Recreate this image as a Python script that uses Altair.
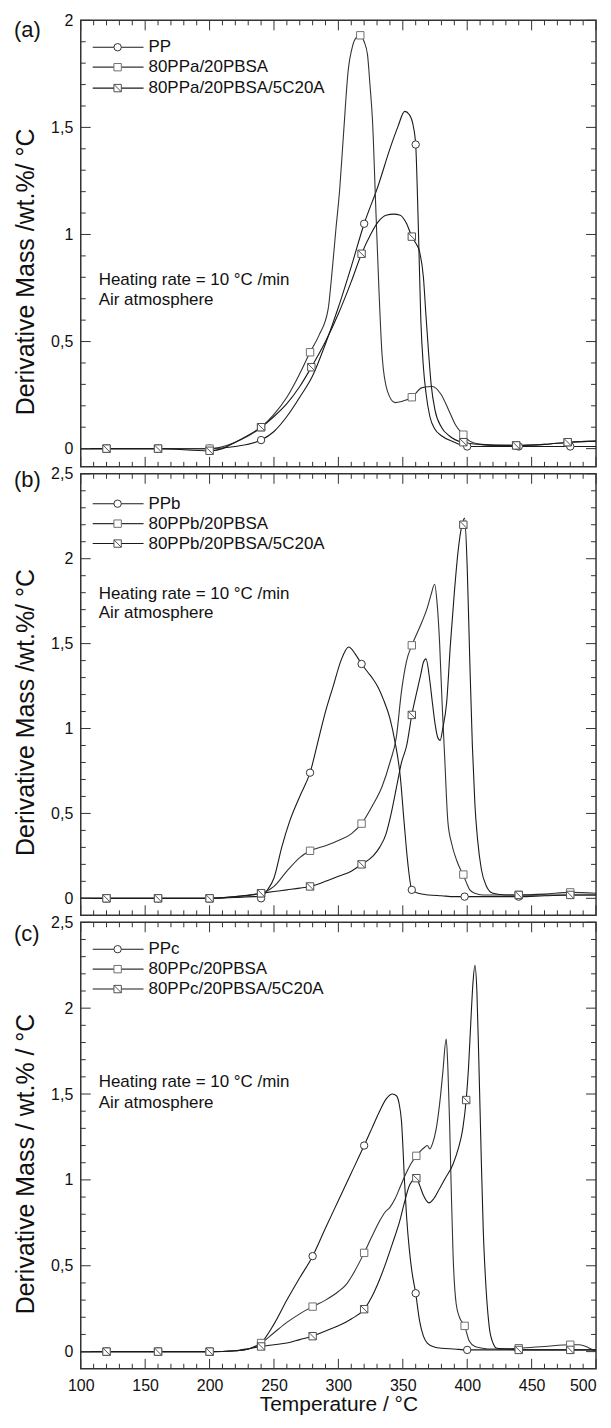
import altair as alt
import pandas as pd

FONT = "Liberation Sans"

# ---------------- data (temperature °C, derivative mass %/°C) ----------------
NAMES_A = ["PP", "80PPa/20PBSA", "80PPa/20PBSA/5C20A"]
NAMES_B = ["PPb", "80PPb/20PBSA", "80PPb/20PBSA/5C20A"]
NAMES_C = ["PPc", "80PPc/20PBSA", "80PPc/20PBSA/5C20A"]

A_PP = [(100,0),(120,0),(160,0),(200,0),(220,0.01),(240,0.04),(250,0.08),(260,0.15),(270,0.24),(280,0.34),
        (290,0.49),(300,0.66),(310,0.85),(320,1.05),(331,1.23),(340,1.40),(346,1.50),(351.5,1.575),(355,1.56),
        (358,1.51),(360,1.42),(362,1.05),(364,0.6),(366,0.38),(368,0.26),(371,0.15),(375,0.09),(380,0.06),
        (390,0.03),(400,0.01),(420,0.01),(440,0.01),(460,0.01),(480,0.01),(500,0.01)]
A_BL = [(100,0),(120,0),(160,0),(200,0),(220,0.03),(240,0.1),(250,0.16),(260,0.24),(270,0.35),(278,0.45),
        (285,0.53),(292,0.65),(295,0.82),(298,1.02),(301,1.21),(304,1.47),(307.5,1.76),(311,1.88),(314,1.92),
        (317,1.93),(320,1.9),(322.6,1.84),(324.5,1.7),(326.5,1.53),(329,1.13),(331.5,0.74),(334,0.43),(338,0.27),
        (344,0.215),(349,0.22),(357,0.24),(365,0.285),(373,0.29),(379.5,0.255),(386,0.175),(391,0.11),(396,0.07),
        (402,0.035),(410,0.02),(420,0.015),(440,0.015),(460,0.02),(480,0.03),(500,0.035)]
A_NC = [(100,0),(120,0),(160,0),(200,-0.01),(210,0.0),(220,0.03),(240,0.1),(250,0.15),(260,0.21),(270,0.29),
        (279,0.38),(290,0.5),(300,0.63),(310,0.78),(318,0.91),(325,1.0),(331,1.06),(337,1.09),(343,1.095),
        (348,1.09),(353,1.05),(357,0.99),(360,0.96),(363,0.92),(366,0.8),(368,0.62),(370,0.45),(372,0.3),
        (375,0.18),(380,0.1),(386,0.06),(396,0.03),(410,0.02),(440,0.015),(460,0.02),(480,0.03),(500,0.035)]
A_PP_M = [(120,0),(160,0),(200,0),(240,0.04),(320,1.05),(360,1.42),(400,0.01),(440,0.01),(480,0.01)]
A_BL_M = [(120,0),(160,0),(200,0),(240,0.1),(278,0.45),(317,1.93),(357,0.24),(397,0.065),(438,0.015),(478,0.03)]
A_NC_M = [(120,0),(160,0),(200,-0.01),(240,0.1),(279,0.38),(318,0.91),(357,0.99),(397,0.03),(438,0.015),(478,0.03)]

B_PP = [(100,0),(120,0),(160,0),(200,0),(220,0.005),(235,0.01),(240,0.01),(245,0.05),(250,0.12),(256,0.3),
        (262,0.45),(270,0.6),(278,0.74),(285,0.95),(290,1.1),(296,1.25),(302,1.4),(308,1.48),(313,1.44),
        (318,1.38),(323,1.33),(327,1.29),(331,1.24),(335,1.17),(340,1.06),(344,0.92),(348,0.72),(351,0.45),
        (354,0.2),(357,0.05),(362,0.03),(370,0.02),(380,0.015),(390,0.01),(400,0.01),(420,0.01),(440,0.01),
        (460,0.015),(480,0.02),(500,0.02)]
B_BL = [(100,0),(120,0),(160,0),(200,0),(220,0.01),(240,0.03),(250,0.07),(260,0.16),(270,0.24),(278,0.28),
        (290,0.31),(300,0.34),(310,0.38),(318,0.44),(326,0.54),(334,0.66),(340,0.8),(345,0.95),(349,1.22),
        (353,1.4),(357,1.49),(361,1.56),(365,1.63),(369,1.71),(372,1.79),(374.7,1.85),(376.5,1.75),(378.6,1.5),
        (380.5,1.15),(382.4,0.85),(385,0.45),(388,0.32),(392,0.22),(396,0.15),(399,0.1),(402,0.05),(406,0.03),
        (412,0.02),(420,0.02),(440,0.02),(460,0.025),(480,0.035),(500,0.03)]
B_NC = [(100,0),(120,0),(160,0),(200,0),(220,0.01),(240,0.03),(250,0.04),(260,0.05),(270,0.06),(278,0.07),
        (290,0.1),(300,0.13),(310,0.16),(318,0.2),(327,0.25),(332,0.3),(337,0.38),(341,0.5),(345,0.65),(349,0.8),
        (353,0.9),(357,1.08),(361,1.22),(364,1.32),(366,1.39),(368,1.41),(371,1.28),(373,1.15),(375,1.03),
        (377,0.95),(379,0.93),(381,1.0),(384,1.15),(387,1.5),(390,1.8),(393,2.05),(396,2.2),(398,2.24),(400,1.95),
        (402,1.4),(404,0.9),(406,0.55),(408,0.35),(411,0.17),(415,0.07),(420,0.03),(430,0.02),(440,0.02),
        (460,0.02),(480,0.02),(500,0.02)]
B_PP_M = [(120,0),(160,0),(200,0),(240,0.0),(278,0.74),(318,1.38),(357,0.05),(398,0.01),(440,0.01),(480,0.02)]
B_BL_M = [(120,0),(160,0),(200,0),(240,0.03),(278,0.28),(318,0.44),(357,1.49),(397,0.14),(440,0.02),(480,0.035)]
B_NC_M = [(120,0),(160,0),(200,0),(240,0.03),(278,0.07),(318,0.2),(357,1.08),(397,2.2),(440,0.02),(480,0.02)]

C_PP = [(100,0),(120,0),(160,0),(200,0),(220,0.005),(232,0.02),(240,0.05),(250,0.16),(260,0.3),(270,0.43),
        (280,0.556),(290,0.72),(300,0.88),(310,1.04),(320,1.2),(326,1.3),(332,1.4),(337,1.47),(342,1.5),
        (345,1.49),(347,1.45),(349,1.34),(351.5,0.97),(353,0.78),(355,0.6),(357,0.47),(360,0.34),(363,0.18),
        (366,0.09),(369,0.05),(375,0.025),(380,0.02),(390,0.015),(400,0.01),(420,0.01),(440,0.01),(460,0.01),
        (480,0.01),(500,0.01)]
C_BL = [(100,0),(120,0),(160,0),(200,0),(220,0.005),(232,0.02),(240,0.05),(250,0.11),(260,0.17),(270,0.22),
        (280,0.262),(290,0.3),(300,0.35),(306,0.39),(312,0.46),(320,0.575),(326,0.67),(332,0.76),(336,0.81),
        (340,0.84),(344,0.89),(348,0.96),(352,1.03),(356,1.09),(360.5,1.14),(364,1.17),(367,1.19),(369,1.2),
        (371,1.18),(373,1.21),(376,1.3),(379,1.47),(381,1.62),(383.7,1.82),(385,1.65),(386.3,1.34),(387.6,0.95),
        (389,0.57),(391.4,0.28),(394,0.2),(397.9,0.15),(401.7,0.06),(406,0.03),(412,0.02),(420,0.015),
        (440,0.02),(460,0.03),(480,0.04),(487,0.04),(495,0.02),(500,0.0)]
C_NC = [(100,0),(120,0),(160,0),(200,0),(220,0.005),(232,0.02),(240,0.03),(250,0.04),(260,0.05),(270,0.07),
        (280,0.09),(290,0.12),(300,0.15),(310,0.19),(320,0.247),(326,0.32),(332,0.42),(337,0.52),(342,0.63),
        (347.6,0.76),(351,0.86),(355.3,0.97),(360.5,1.01),(363,0.97),(366,0.91),(370.3,0.866),(374,0.89),
        (378.6,0.95),(383,1.01),(388.9,1.09),(393,1.18),(396.6,1.3),(399.2,1.465),(401,1.65),(403,1.95),
        (404.5,2.15),(406,2.25),(407.5,2.1),(409,1.7),(411,1.1),(412.5,0.7),(414,0.45),(417,0.15),(420,0.05),
        (423,0.02),(430,0.015),(440,0.01),(460,0.01),(480,0.01),(500,0.01)]
C_PP_M = [(120,0),(160,0),(200,0),(240,0.05),(280,0.556),(320,1.2),(360,0.34),(400,0.01),(440,0.01),(480,0.01)]
C_BL_M = [(120,0),(160,0),(200,0),(240,0.05),(280,0.262),(320,0.575),(360.5,1.14),(398,0.15),(440,0.02),(480,0.04)]
C_NC_M = [(120,0),(160,0),(200,0),(240,0.03),(280,0.09),(320,0.247),(360.5,1.01),(399.2,1.465),(440,0.01),(480,0.01)]

# axis ticks / labels
X_LABELS = [100, 150, 200, 250, 300, 350, 400, 450, 500]
X_TICKS = list(range(100, 501, 10))
Y_LABELS_A = [0, 0.5, 1, 1.5, 2]
Y_LABELS_BC = [0, 0.5, 1, 1.5, 2, 2.5]

# ---------------- styling ----------------
W = 517
LINE_COLORS = ["#1a1a1a", "#333333", "#1a1a1a"]
MARK_STROKES = ["#333333", "#707070", "#505050"]
SHAPES = ["circle", "square", "M-1,-1L1,-1L1,1L-1,1Z M-1,-1L1,1"]
MSIZE = 55


def to_df(names, series):
    rows = []
    for i, (n, pts) in enumerate(zip(names, series)):
        for t, v in pts:
            rows.append({"series": n, "order": i, "T": t, "v": v})
    return pd.DataFrame(rows)


def panel(label, names, curves, marks, ymin, ymax, H, ytitle, title_y, show_x, leg_y, note_y, lab_dy):
    xs = alt.Scale(domain=[100, 500], nice=False, zero=False)
    ys = alt.Scale(domain=[ymin, ymax], nice=False, zero=False)
    ylabels = Y_LABELS_A if ymax <= 2 else Y_LABELS_BC
    cdf = to_df(names, curves)
    mdf = to_df(names, marks)

    if show_x:
        xaxis = alt.Axis(values=X_LABELS, ticks=False, domain=False, grid=False,
                         labelFontSize=16, labelPadding=9, labelFlush=False, labelOverlap=False,
                         labelAlign={"condition": {"test": "datum.value >= 500", "value": "right"},
                                     "value": "center"},
                         title="Temperature / °C",
                         titleFontSize=21, titlePadding=0, titleFontWeight="normal")
    else:
        xaxis = None
    yaxis = alt.Axis(values=ylabels, ticks=False, domain=False, grid=False,
                     labelExpr="replace(format(datum.value, '~g'), '.', ',')",
                     labelFlush=False, labelOverlap=False,
                     labelFontSize=16, labelPadding=8, title=ytitle, titleFontSize=25,
                     titlePadding=12, titleY=title_y, titleFontWeight="normal")

    def X(field):
        return alt.X(field, scale=xs, axis=xaxis)

    def Y(field):
        return alt.Y(field, scale=ys, axis=yaxis)

    lines = alt.Chart(cdf).mark_line(interpolate="monotone", strokeWidth=1.1, clip=True).encode(
        x=X("T:Q"),
        y=Y("v:Q"),
        color=alt.Color("series:N", scale=alt.Scale(domain=names, range=LINE_COLORS), legend=None),
        detail="series:N",
    )
    points = alt.Chart(mdf).mark_point(filled=True, size=MSIZE, strokeWidth=1, opacity=1, clip=True).encode(
        x=X("T:Q"),
        y=Y("v:Q"),
        shape=alt.Shape("series:N", scale=alt.Scale(domain=names, range=SHAPES), legend=None),
        stroke=alt.Stroke("series:N", scale=alt.Scale(domain=names, range=MARK_STROKES), legend=None),
        fill=alt.value("white"),
        order=alt.Order("order:Q"),
    )

    xt = pd.DataFrame({"T": X_TICKS})
    xt["major"] = xt["T"] % 50 == 0
    yt_vals = [round(i * 0.1, 1) for i in range(0, int(round(ymax * 10)) + 1)]
    yt = pd.DataFrame({"v": yt_vals})
    yt["major"] = [abs(v * 2 - round(v * 2)) < 1e-6 for v in yt_vals]

    tick_layers = []
    for major, ln in [(True, 10), (False, 5)]:
        xd = xt[xt["major"] == major]
        yd = yt[yt["major"] == major]
        base_x = alt.Chart(xd).mark_rule(color="#333", strokeWidth=1)
        tick_layers.append(base_x.encode(x=X("T:Q"), y=alt.value(0), y2=alt.value(ln)))
        tick_layers.append(base_x.encode(x=X("T:Q"), y=alt.value(H), y2=alt.value(H - ln)))
        base_y = alt.Chart(yd).mark_rule(color="#333", strokeWidth=1)
        tick_layers.append(base_y.encode(y=Y("v:Q"), x=alt.value(0), x2=alt.value(ln)))
        tick_layers.append(base_y.encode(y=Y("v:Q"), x=alt.value(W), x2=alt.value(W - ln)))

    legend_layers = []
    for i, n in enumerate(names):
        d = pd.DataFrame({"name": [n]})
        legend_layers.append(alt.Chart(d).mark_rule(color=LINE_COLORS[i], strokeWidth=1.1).encode(
            x=alt.value(12), x2=alt.value(63), y=alt.value(leg_y[i])))
        legend_layers.append(alt.Chart(d).mark_point(filled=True, size=MSIZE, fill="white",
                                                      stroke=MARK_STROKES[i], strokeWidth=1,
                                                      shape=SHAPES[i], opacity=1).encode(
            x=alt.value(37), y=alt.value(leg_y[i])))
        legend_layers.append(alt.Chart(d).mark_text(align="left", baseline="middle", fontSize=17,
                                                     font=FONT, color="#111").encode(
            x=alt.value(68), y=alt.value(leg_y[i]), text="name:N"))

    notes = pd.DataFrame({"txt": ["Heating rate = 10 °C /min", "Air atmosphere"]})
    note_layers = []
    for j in range(2):
        note_layers.append(alt.Chart(notes.iloc[[j]]).mark_text(
            align="left", baseline="middle", fontSize=17, font=FONT, color="#111").encode(
            x=alt.value(18), y=alt.value(note_y[j]), text="txt:N"))

    lab = alt.Chart(pd.DataFrame({"l": [label]})).mark_text(
        align="left", baseline="middle", fontSize=22, font=FONT, color="#111").encode(
        x=alt.value(-67), y=alt.value(lab_dy), text="l:N")

    return alt.layer(lines, points, *tick_layers, *legend_layers, *note_layers, lab).properties(
        width=W, height=H)


pa = panel("(a)", NAMES_A, [A_PP, A_BL, A_NC], [A_PP_M, A_BL_M, A_NC_M], -0.085, 2.0, 448,
           "Derivative Mass /wt.%/ °C", 252, False, [27, 47, 68], [261, 281], 10)
pb = panel("(b)", NAMES_B, [B_PP, B_BL, B_NC], [B_PP_M, B_BL_M, B_NC_M], -0.1, 2.5, 443,
           "Derivative Mass /wt.%/ °C", 239, False, [30, 50, 70], [121, 140], 6)
pc = panel("(c)", NAMES_C, [C_PP, C_BL, C_NC], [C_PP_M, C_BL_M, C_NC_M], -0.1, 2.5, 448,
           "Derivative Mass / wt.% / °C", 242, True, [27, 47, 67], [160, 181], 12)

chart = alt.vconcat(pa, pb, pc, spacing=-4).properties(
    padding={"left": 5, "top": 1, "right": 5, "bottom": 0}
).configure_view(
    stroke="#333", strokeWidth=1.5
).configure_axis(
    labelFont=FONT, titleFont=FONT, labelColor="#111", titleColor="#111"
)

chart.save("out.html", embed_options={"renderer": "svg", "actions": False})
